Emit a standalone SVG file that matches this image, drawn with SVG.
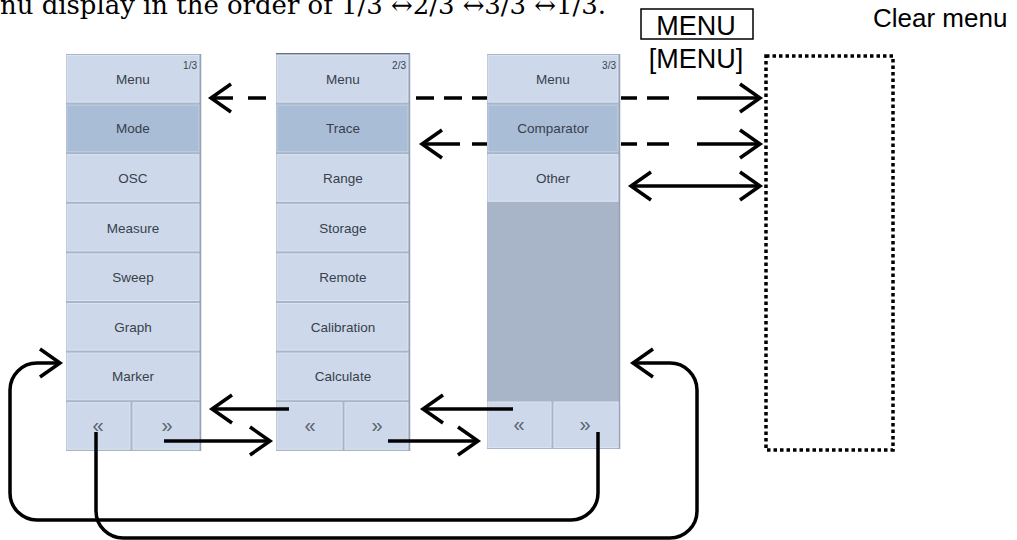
<svg xmlns="http://www.w3.org/2000/svg" width="1017" height="540" viewBox="0 0 1017 540">
<style>
.pbg{fill:#a9b5c8}
.btn{fill:#cdd9ea;stroke:#dbe3ef;stroke-width:1}
.sel{fill:#aabdd6;stroke:#c2d0e2;stroke-width:1}
.empty{fill:#a8b5c9}
.edge{stroke:#95a1b4;stroke-width:1.5}
.lbl{font-family:"Liberation Sans",Arial,sans-serif;font-size:13.5px;fill:#383f4b;text-anchor:middle}
.pg{font-family:"Liberation Sans",Arial,sans-serif;font-size:10px;fill:#383f4b;text-anchor:end}
.nav{font-family:"Liberation Sans",Arial,sans-serif;font-size:20px;fill:#5a616b;text-anchor:middle}
.big{font-family:"Liberation Sans",Arial,sans-serif;fill:#000}
.conn{fill:none;stroke:#000;stroke-width:3.5}
</style>
<defs>
<marker id="ah" markerUnits="userSpaceOnUse" markerWidth="40" markerHeight="40" viewBox="-25 -20 40 40" refX="0" refY="0" orient="auto-start-reverse" overflow="visible">
<path d="M-20,-14 L0,0 L-20,14" fill="none" stroke="#000" stroke-width="3.5"/>
</marker>
</defs>
<rect width="1017" height="540" fill="#fff"/>

<g id="title">
<text x="0" y="14" font-family="'DejaVu Serif','Liberation Serif',serif" font-size="26" textLength="606" lengthAdjust="spacingAndGlyphs">nu display in the order of 1/3 ↔2/3 ↔3/3 ↔1/3.</text>
</g>

<g id="menu-key">
<rect x="641" y="9" width="112" height="30" fill="none" stroke="#000" stroke-width="1.5"/>
<text class="big" x="696" y="35" font-size="27" text-anchor="middle">MENU</text>
<text class="big" x="696" y="68" font-size="27" text-anchor="middle">[MENU]</text>
</g>

<g id="clear-menu">
<text class="big" x="873" y="27" font-size="26">Clear menu</text>
<rect x="766" y="56" width="127" height="394" fill="none" stroke="#000" stroke-width="3.5" stroke-dasharray="3.5 3"/>
</g>

<g id="panel1">
<rect class="pbg" x="66" y="54" width="135" height="397"/>
<rect class="btn" x="67" y="55.5" width="132" height="46.6"/>
<rect class="sel" x="67" y="105.1" width="132" height="46.6"/>
<rect class="btn" x="67" y="154.7" width="132" height="46.6"/>
<rect class="btn" x="67" y="204.3" width="132" height="46.6"/>
<rect class="btn" x="67" y="253.9" width="132" height="46.6"/>
<rect class="btn" x="67" y="303.5" width="132" height="46.6"/>
<rect class="btn" x="67" y="353.1" width="132" height="46.6"/>
<rect class="btn" x="67" y="402.7" width="63" height="46.6"/>
<rect class="btn" x="133" y="402.7" width="66" height="46.6"/>
<line class="edge" x1="200.5" y1="54" x2="200.5" y2="451"/>
<text class="pg" x="197" y="69">1/3</text>
<text class="lbl" x="133" y="83.8">Menu</text>
<text class="lbl" x="133" y="133.4">Mode</text>
<text class="lbl" x="133" y="183">OSC</text>
<text class="lbl" x="133" y="232.6">Measure</text>
<text class="lbl" x="133" y="282.2">Sweep</text>
<text class="lbl" x="133" y="331.8">Graph</text>
<text class="lbl" x="133" y="381.4">Marker</text>
<text class="nav" x="98" y="432">«</text>
<text class="nav" x="167" y="432">»</text>
</g>

<g id="panel2">
<rect class="pbg" x="276" y="53" width="134" height="398"/>
<line x1="276" y1="53.5" x2="410" y2="53.5" stroke="#6b7587" stroke-width="1"/>
<rect class="btn" x="277" y="55.5" width="131" height="46.6"/>
<rect class="sel" x="277" y="105.1" width="131" height="46.6"/>
<rect class="btn" x="277" y="154.7" width="131" height="46.6"/>
<rect class="btn" x="277" y="204.3" width="131" height="46.6"/>
<rect class="btn" x="277" y="253.9" width="131" height="46.6"/>
<rect class="btn" x="277" y="303.5" width="131" height="46.6"/>
<rect class="btn" x="277" y="353.1" width="131" height="46.6"/>
<rect class="btn" x="277" y="402.7" width="65" height="46.6"/>
<rect class="btn" x="345" y="402.7" width="63" height="46.6"/>
<line class="edge" x1="409.5" y1="54" x2="409.5" y2="451"/>
<text class="pg" x="406" y="69">2/3</text>
<text class="lbl" x="343" y="83.8">Menu</text>
<text class="lbl" x="343" y="133.4">Trace</text>
<text class="lbl" x="343" y="183">Range</text>
<text class="lbl" x="343" y="232.6">Storage</text>
<text class="lbl" x="343" y="282.2">Remote</text>
<text class="lbl" x="343" y="331.8">Calibration</text>
<text class="lbl" x="343" y="381.4">Calculate</text>
<text class="nav" x="310" y="432">«</text>
<text class="nav" x="377" y="432">»</text>
</g>

<g id="panel3">
<rect class="pbg" x="487" y="54" width="133" height="395"/>
<rect class="btn" x="488" y="55.5" width="130" height="46.6"/>
<rect class="sel" x="488" y="105.1" width="130" height="46.6"/>
<rect class="btn" x="488" y="154.7" width="130" height="46.6"/>
<rect class="empty" x="487" y="202.5" width="133" height="198.5"/>
<rect class="btn" x="488" y="402" width="63" height="45.5"/>
<rect class="btn" x="554" y="402" width="64.5" height="45.5"/>
<line class="edge" x1="619.5" y1="54" x2="619.5" y2="449"/>
<text class="pg" x="616" y="69">3/3</text>
<text class="lbl" x="553" y="83.8">Menu</text>
<text class="lbl" x="553" y="133.4">Comparator</text>
<text class="lbl" x="553" y="183">Other</text>
<text class="nav" x="519" y="431">«</text>
<text class="nav" x="585" y="431">»</text>
</g>

<g id="connectors">
<path class="conn" marker-start="url(#ah)" marker-end="url(#ah)" d="M211,98 H233 M248,98 H266 M416,98 H434 M444,98 H462 M472,98 H487 M621,98 H637 M647,98 H669 M697,98 H760"/>
<path class="conn" marker-start="url(#ah)" marker-end="url(#ah)" d="M422,144 H460 M472,144 H487 M621,144 H637 M647,144 H669 M697,144 H760"/>
<path class="conn" marker-start="url(#ah)" marker-end="url(#ah)" d="M631,186 H760"/>
<path class="conn" marker-end="url(#ah)" d="M289,409 H212"/>
<path class="conn" marker-end="url(#ah)" d="M164,441 H270"/>
<path class="conn" marker-end="url(#ah)" d="M513,409 H423"/>
<path class="conn" marker-end="url(#ah)" d="M388,441 H478"/>
<path class="conn" marker-end="url(#ah)" d="M598,432 V493 A27,27 0 0 1 571,520 H37 A27,27 0 0 1 10,493 V390 A27,27 0 0 1 37,363 H60"/>
<path class="conn" marker-end="url(#ah)" d="M96,432 V511 A27,27 0 0 0 123,538 H670 A27,27 0 0 0 697,511 V390 A27,27 0 0 0 670,363 H633"/>
</g>
</svg>
